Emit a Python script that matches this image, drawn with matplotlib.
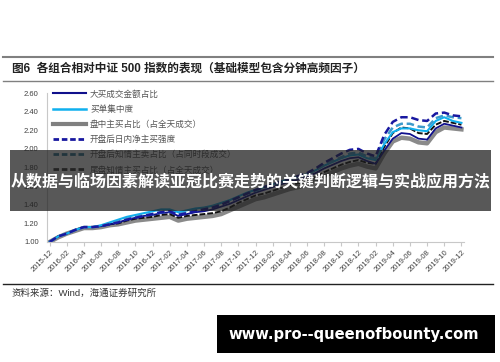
import numpy as np
import matplotlib
matplotlib.use('Agg')
import matplotlib.pyplot as plt
from matplotlib.patches import Rectangle
from matplotlib.lines import Line2D

plt.rcParams['font.family'] = ['Liberation Sans', 'Noto Sans CJK SC', 'DejaVu Sans']

# monthly points, 2015-12 .. 2019-12
months = np.arange(49)
tick_labels = ['2015-12', '2016-02', '2016-04', '2016-06', '2016-08', '2016-10', '2016-12',
               '2017-02', '2017-04', '2017-06', '2017-08', '2017-10', '2017-12',
               '2018-02', '2018-04', '2018-06', '2018-08', '2018-10', '2018-12',
               '2019-02', '2019-04', '2019-06', '2019-08', '2019-10', '2019-12']

big_buy = [1.00, 1.06, 1.09, 1.13, 1.16, 1.16, 1.17, 1.19, 1.21, 1.24, 1.26, 1.28, 1.29,
           1.31, 1.32, 1.28, 1.30, 1.32, 1.33, 1.35, 1.38, 1.41, 1.45, 1.49, 1.53,
           1.56, 1.59, 1.62, 1.65, 1.67, 1.70, 1.74, 1.79, 1.83, 1.87, 1.90, 1.91,
           1.87, 1.84, 1.98, 2.11, 2.17, 2.16, 2.11, 2.10, 2.22, 2.27, 2.25, 2.23]
concentration = [1.00, 1.06, 1.09, 1.13, 1.16, 1.16, 1.18, 1.21, 1.24, 1.27, 1.29, 1.31, 1.33,
                 1.35, 1.35, 1.32, 1.34, 1.36, 1.37, 1.39, 1.42, 1.45, 1.49, 1.53, 1.56,
                 1.59, 1.62, 1.65, 1.68, 1.70, 1.73, 1.77, 1.82, 1.86, 1.90, 1.93, 1.94,
                 1.90, 1.88, 2.05, 2.18, 2.22, 2.22, 2.20, 2.19, 2.30, 2.34, 2.30, 2.28]
intraday_buy = [1.00, 1.05, 1.09, 1.12, 1.15, 1.15, 1.16, 1.18, 1.19, 1.21, 1.23, 1.24, 1.25,
                1.26, 1.27, 1.23, 1.25, 1.26, 1.27, 1.28, 1.30, 1.34, 1.38, 1.42, 1.46,
                1.48, 1.51, 1.54, 1.57, 1.59, 1.62, 1.66, 1.71, 1.75, 1.79, 1.82, 1.84,
                1.81, 1.79, 1.95, 2.08, 2.12, 2.11, 2.07, 2.06, 2.18, 2.23, 2.22, 2.21]
open_net_buy = [1.00, 1.06, 1.09, 1.13, 1.16, 1.16, 1.17, 1.19, 1.21, 1.24, 1.26, 1.28, 1.30,
                1.32, 1.33, 1.29, 1.31, 1.33, 1.35, 1.37, 1.40, 1.44, 1.48, 1.52, 1.56,
                1.59, 1.62, 1.65, 1.68, 1.71, 1.74, 1.79, 1.85, 1.90, 1.95, 1.99, 2.00,
                1.95, 1.92, 2.15, 2.29, 2.34, 2.34, 2.31, 2.30, 2.38, 2.39, 2.36, 2.35]
open_informed_sell = [1.00, 1.06, 1.09, 1.13, 1.16, 1.16, 1.17, 1.20, 1.22, 1.25, 1.27, 1.29, 1.30,
                      1.32, 1.33, 1.30, 1.32, 1.34, 1.36, 1.38, 1.41, 1.44, 1.48, 1.52, 1.55,
                      1.58, 1.61, 1.64, 1.67, 1.70, 1.73, 1.77, 1.83, 1.87, 1.91, 1.95, 1.96,
                      1.92, 1.90, 2.10, 2.23, 2.27, 2.27, 2.24, 2.23, 2.33, 2.36, 2.34, 2.33]
close_informed_buy = [1.00, 1.06, 1.09, 1.13, 1.16, 1.16, 1.17, 1.19, 1.20, 1.23, 1.25, 1.26, 1.27,
                      1.29, 1.30, 1.26, 1.28, 1.29, 1.30, 1.31, 1.33, 1.37, 1.42, 1.46, 1.50,
                      1.52, 1.55, 1.58, 1.61, 1.63, 1.66, 1.70, 1.75, 1.79, 1.83, 1.86, 1.88,
                      1.85, 1.84, 2.02, 2.17, 2.23, 2.22, 2.17, 2.16, 2.26, 2.30, 2.28, 2.26]

labels = ['大买成交金额占比', '买单集中度', '盘中主买占比（占全天成交）', '开盘后日内净主买强度',
          '开盘后知情主卖占比（占同时段成交）', '尾盘知情主买占比（占全天成交）']

fig = plt.figure(figsize=(5, 3.62), dpi=100)
ax = fig.add_axes([0.094, 0.3315, 0.834, 0.4115])

l3, = ax.plot(months, intraday_buy, color='#8a8a8a', lw=3.2)
l6, = ax.plot(months, close_informed_buy, color='#111111', lw=1.4, ls=(0, (3, 1)))
l1, = ax.plot(months, big_buy, color='#10108c', lw=1.3)
l2, = ax.plot(months, concentration, color='#10b0ee', lw=1.5)
l5, = ax.plot(months, open_informed_sell, color='#3d9acb', lw=1.8, ls=(0, (3, 1.5)))
l4, = ax.plot(months, open_net_buy, color='#1818a0', lw=1.8, ls=(0, (3, 1.5)))

ax.set_xlim(-0.3, 48.3)
ax.set_ylim(1.0, 2.6)
ax.set_yticks(np.arange(1.0, 2.61, 0.2))
ax.set_yticklabels(['%.2f' % v for v in np.arange(1.0, 2.61, 0.2)])
ax.set_xticks(months[::2])
ax.set_xticklabels(tick_labels, rotation=45, ha='right', rotation_mode='anchor')
ax.tick_params(axis='both', labelsize=5.5, colors='#404040', length=0)
ax.tick_params(axis='x', length=3, color='#c8c8c8', pad=2)
ax.tick_params(axis='y', pad=6)
for s in ['top', 'right']:
    ax.spines[s].set_visible(False)
ax.spines['left'].set_color('#c8c8c8')
ax.spines['bottom'].set_color('#c8c8c8')
ax.spines['left'].set_linewidth(0.8)
ax.spines['bottom'].set_linewidth(0.8)

handles = [Line2D([], [], color='#10108c', lw=1.5),
           Line2D([], [], color='#10b0ee', lw=1.8),
           Line2D([], [], color='#808080', lw=3),
           Line2D([], [], color='#1818a0', lw=2, ls=(0, (2, 1))),
           Line2D([], [], color='#2a7393', lw=2, ls=(0, (2, 1))),
           Line2D([], [], color='#333333', lw=2, ls=(0, (2, 1)))]
leg = ax.legend(handles, labels, loc='upper left', bbox_to_anchor=(0.0, 1.065), frameon=False,
                fontsize=6.2, handlelength=3.8, handletextpad=0.5, labelspacing=0.72,
                borderaxespad=0.3)
for t in leg.get_texts():
    t.set_color('#555555')

# header and footer
fig.add_artist(Line2D([0.006, 0.986], [1 - 57 / 362, 1 - 57 / 362], color='#808080', lw=1.5))
fig.add_artist(Line2D([0.006, 0.986], [1 - 81 / 362, 1 - 81 / 362], color='#808080', lw=1))
fig.add_artist(Line2D([0.006, 0.986], [1 - 284 / 362, 1 - 284 / 362], color='#222222', lw=1))
fig.text(0.024, 1 - 69 / 362, '图6  各组合相对中证 500 指数的表现（基础模型包含分钟高频因子）',
         fontsize=8.4, fontweight='bold', color='#222222', va='center')
fig.text(0.024, 1 - 293 / 362, '资料来源：Wind，海通证券研究所', fontsize=6.8, color='#333333', va='center')

# overlay banner
fig.add_artist(Rectangle((0.02, 1 - 211 / 362), 0.962, 61 / 362, transform=fig.transFigure,
                         facecolor='#1e1e1e', alpha=0.74, edgecolor='none'))
fig.text(0.502, 1 - 181 / 362, '从数据与临场因素解读亚冠比赛走势的关键判断逻辑与实战应用方法',
         fontsize=11.5, fontweight='bold', color='white', ha='center', va='center',
         family=['Noto Sans CJK SC', 'DejaVu Sans'])

fig.add_artist(Rectangle((0.434, 1 - 353 / 362), 0.556, 38 / 362, transform=fig.transFigure,
                         facecolor='black', edgecolor='none'))
fig.text(0.708, 1 - 334 / 362, 'www.pro--queenofbounty.com', fontsize=10.6, fontweight='bold',
         color='white', ha='center', va='center', family=['DejaVu Sans'])

fig.savefig('out.png', dpi=100)
